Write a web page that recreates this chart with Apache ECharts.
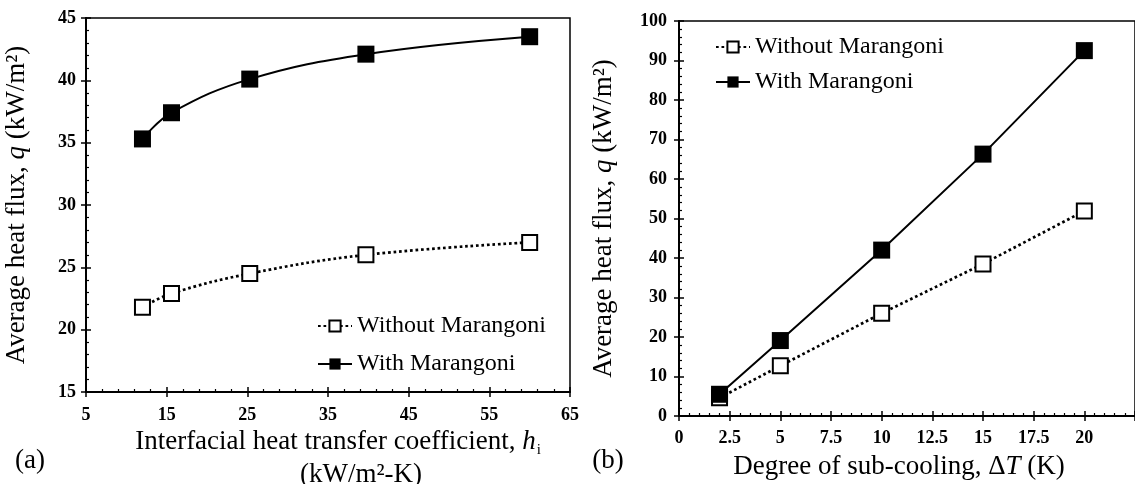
<!DOCTYPE html>
<html><head><meta charset="utf-8">
<script src="https://cdn.jsdelivr.net/npm/echarts@6/dist/echarts.min.js"></script>
<style>html,body{margin:0;padding:0;background:#fff}#c{width:1135px;height:484px}</style>
</head><body><div id="c"></div>
<script>
// ---- data ----
const seriesNames = ['Without Marangoni', 'With Marangoni'];
// (a) interfacial heat transfer coefficient
const hiValues = [12, 15.6, 25.3, 39.7, 60];
const qWithoutA = [21.8, 22.9, 24.5, 26.0, 27.0];
const qWithA = [35.3, 37.4, 40.1, 42.1, 43.5];
// (b) degree of sub-cooling
const subCooling = [2, 5, 10, 15, 20];
const qWithoutB = [4.6, 12.7, 26.0, 38.5, 51.9];
const qWithB = [5.5, 19.1, 42.0, 66.3, 92.5];

const SERIF = '"Liberation Serif", "Times New Roman", serif';
const pair = (xs, ys) => xs.map((x, i) => [x, ys[i]]);

const tickLabel = { color: '#000', fontFamily: SERIF, fontWeight: 'bold', fontSize: 18 };
const axisLine = { show: true, lineStyle: { color: '#000', width: 2 } };

function mainAxis(gridIndex, min, max, interval, extra) {
  return Object.assign({
    type: 'value', gridIndex, min, max, interval,
    axisLine,
    axisTick: { show: true, inside: true, length: 5, lineStyle: { color: '#000', width: 1.5 } },
    minorTick: { show: true, splitNumber: 5, length: 3, lineStyle: { color: '#000', width: 1.2 } },
    splitLine: { show: false },
    axisLabel: Object.assign({}, tickLabel)
  }, extra || {});
}
function outerTickAxis(gridIndex, min, max, interval, extra) {
  return Object.assign({
    type: 'value', gridIndex, min, max, interval,
    axisLine: { show: false },
    axisTick: { show: true, inside: false, length: 5, lineStyle: { color: '#000', width: 1.5 } },
    splitLine: { show: false },
    axisLabel: { show: false }
  }, extra || {});
}

const withoutStyle = {
  symbol: 'rect', symbolSize: 15,
  itemStyle: { color: '#fff', borderColor: '#000', borderWidth: 2 },
  lineStyle: { color: '#000', width: 2.7, type: [2.7, 2.8] }
};
const withStyle = {
  symbol: 'rect', symbolSize: 17,
  itemStyle: { color: '#000', borderColor: '#000', borderWidth: 0 },
  lineStyle: { color: '#000', width: 2, type: 'solid' }
};

const yTitleRich = {
  it: { fontStyle: 'italic', fontFamily: SERIF, fontSize: 27, color: '#000' }
};

const option = {
  backgroundColor: '#fff',
  animation: false,
  grid: [
    { left: 86, top: 18, width: 484, height: 374, show: true, borderColor: '#000', borderWidth: 1.5, backgroundColor: 'transparent' },
    { left: 679, top: 21, width: 477, height: 395, show: true, borderColor: '#000', borderWidth: 1.5, backgroundColor: 'transparent' }
  ],
  xAxis: [
    mainAxis(0, 5, 65, 10, { axisLabel: Object.assign({}, tickLabel, { margin: 14 }) }),
    mainAxis(1, 0, 22.5, 2.5, { axisLabel: Object.assign({}, tickLabel, { margin: 13, showMaxLabel: false }) }),
    outerTickAxis(0, 5, 65, 10, { position: 'bottom' }),
    outerTickAxis(1, 0, 22.5, 2.5, { position: 'bottom' })
  ],
  yAxis: [
    mainAxis(0, 15, 45, 5, {
      axisLabel: Object.assign({}, tickLabel, { margin: 10 }),
      name: 'Average heat flux, {it|q} (kW/m²)', nameLocation: 'middle', nameGap: 56, nameRotate: 90,
      nameTextStyle: { fontFamily: SERIF, fontSize: 27, color: '#000', rich: yTitleRich }
    }),
    mainAxis(1, 0, 100, 10, {
      axisLabel: Object.assign({}, tickLabel, { margin: 12 }),
      name: 'Average heat flux, {it|q} (kW/m²)', nameLocation: 'middle', nameGap: 62, nameRotate: 90,
      nameTextStyle: { fontFamily: SERIF, fontSize: 27, color: '#000', rich: yTitleRich }
    }),
    outerTickAxis(0, 15, 45, 5, { position: 'left' }),
    outerTickAxis(1, 0, 100, 10, { position: 'left' })
  ],
  legend: [
    {
      data: seriesNames, orient: 'vertical', left: 312, top: 309, itemGap: 14,
      itemWidth: 34, itemHeight: 14,
      textStyle: { fontFamily: SERIF, fontSize: 24, color: '#000' }
    },
    {
      data: seriesNames, orient: 'vertical', left: 710, top: 30, itemGap: 11,
      itemWidth: 34, itemHeight: 14,
      textStyle: { fontFamily: SERIF, fontSize: 24, color: '#000' }
    }
  ],
  series: [
    Object.assign({ type: 'line', name: seriesNames[0], xAxisIndex: 0, yAxisIndex: 0, smooth: 0.4, data: pair(hiValues, qWithoutA) }, withoutStyle),
    Object.assign({ type: 'line', name: seriesNames[1], xAxisIndex: 0, yAxisIndex: 0, smooth: 0.4, data: pair(hiValues, qWithA) }, withStyle),
    Object.assign({ type: 'line', name: seriesNames[0], xAxisIndex: 1, yAxisIndex: 1, data: pair(subCooling, qWithoutB) }, withoutStyle),
    Object.assign({ type: 'line', name: seriesNames[1], xAxisIndex: 1, yAxisIndex: 1, data: pair(subCooling, qWithB) }, withStyle)
  ],
  graphic: [
    {
      type: 'text', x: 338, y: 442,
      style: {
        text: 'Interfacial heat transfer coefficient, {it|h}{sub|i}',
        font: '27px ' + SERIF, fill: '#000', align: 'center', verticalAlign: 'middle',
        rich: {
          it: { font: 'italic 27px ' + SERIF, fill: '#000' },
          sub: { font: '15px ' + SERIF, fill: '#000', padding: [16, 0, 0, 1] }
        }
      }
    },
    {
      type: 'text', x: 361, y: 475,
      style: { text: '(kW/m²-K)', font: '27px ' + SERIF, fill: '#000', align: 'center', verticalAlign: 'middle' }
    },
    {
      type: 'text', x: 30, y: 461,
      style: { text: '(a)', font: '27px ' + SERIF, fill: '#000', align: 'center', verticalAlign: 'middle' }
    },
    {
      type: 'text', x: 608, y: 461,
      style: { text: '(b)', font: '27px ' + SERIF, fill: '#000', align: 'center', verticalAlign: 'middle' }
    },
    {
      type: 'text', x: 899, y: 467,
      style: {
        text: 'Degree of sub-cooling, Δ{it|T} (K)',
        font: '27px ' + SERIF, fill: '#000', align: 'center', verticalAlign: 'middle',
        rich: { it: { font: 'italic 27px ' + SERIF, fill: '#000' } }
      }
    }
  ]
};

const chart = echarts.init(document.getElementById('c'), null, { renderer: 'canvas' });
chart.setOption(option);
</script>
</body></html>
